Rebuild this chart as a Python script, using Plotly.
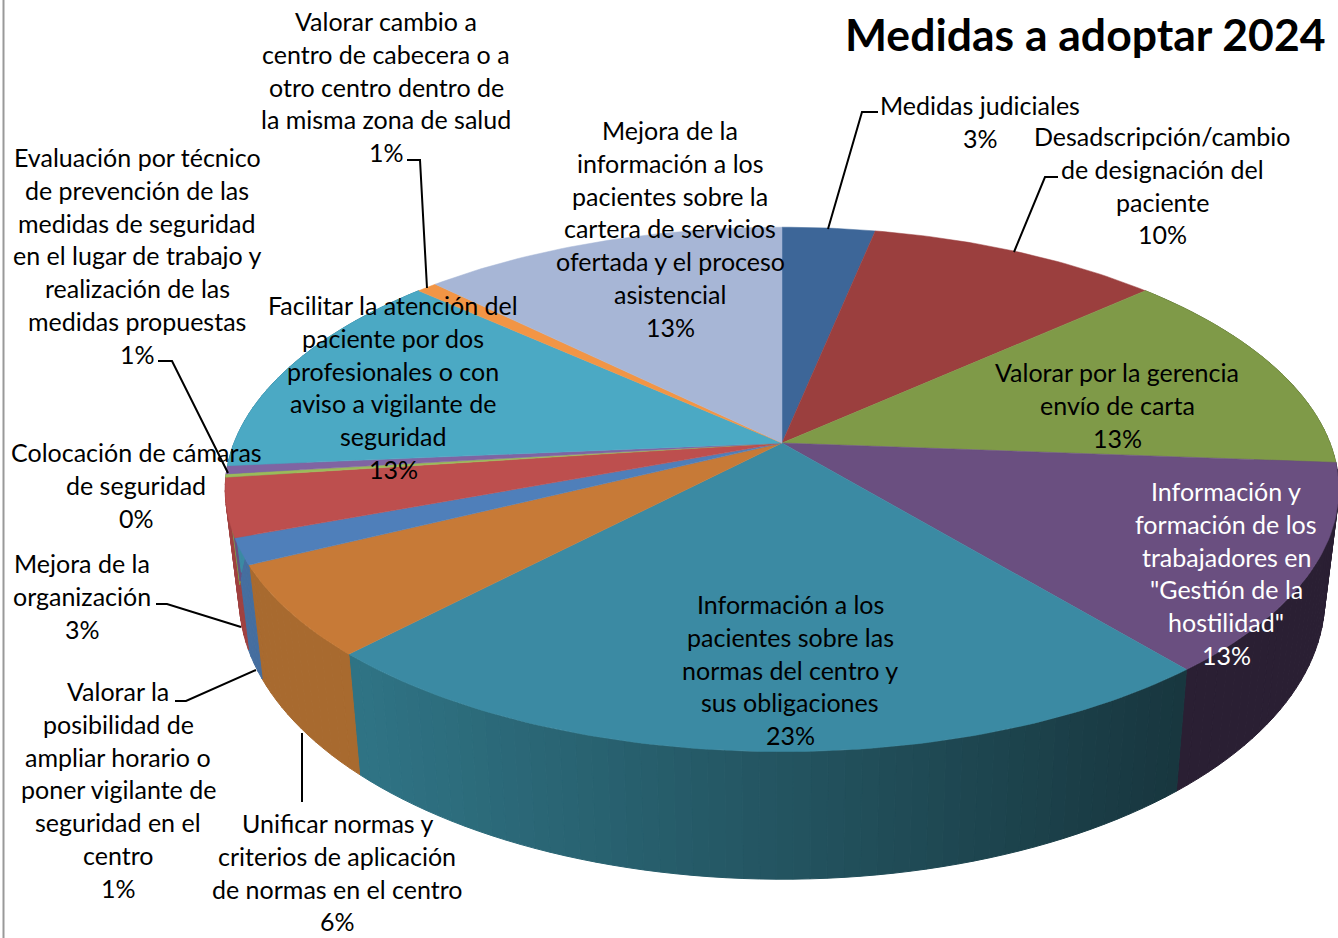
import numpy as np
import plotly.graph_objects as go

# ---- data ----
categories = ["Medidas judiciales", "Desadscripción/cambio de designación del paciente",
    "Valorar por la gerencia envío de carta",
    "Información y formación de los trabajadores en \"Gestión de la hostilidad\"",
    "Información a los pacientes sobre las normas del centro y sus obligaciones",
    "Unificar normas y criterios de aplicación de normas en el centro",
    "Valorar la posibilidad de ampliar horario o poner vigilante de seguridad en el centro",
    "Mejora de la organización", "Colocación de cámaras de seguridad",
    "Evaluación por técnico de prevención de las medidas de seguridad en el lugar de trabajo y realización de las medidas propuestas",
    "Facilitar la atención del paciente por dos profesionales o con aviso a vigilante de seguridad",
    "Valorar cambio a centro de cabecera o a otro centro dentro de la misma zona de salud",
    "Mejora de la información a los pacientes sobre la cartera de servicios ofertada y el proceso asistencial"]
values = [3.2, 10.1, 12.9, 12.8, 23.1, 5.6, 1.6, 3.6, 0.2, 0.5, 13.1, 0.7, 12.6]
percent_labels = ["3%", "10%", "13%", "13%", "23%", "6%", "1%", "3%", "0%", "1%", "13%", "1%", "13%"]
label_lines = [
    ["Medidas judiciales"],
    ["Desadscripción/cambio", "de designación del", "paciente"],
    ["Valorar por la gerencia", "envío de carta"],
    ["Información y", "formación de los", "trabajadores en", "\"Gestión de la", "hostilidad\""],
    ["Información a los", "pacientes sobre las", "normas del centro y", "sus obligaciones"],
    ["Unificar normas y", "criterios de aplicación", "de normas en el centro"],
    ["Valorar la", "posibilidad de", "ampliar horario o", "poner vigilante de", "seguridad en el", "centro"],
    ["Mejora de la", "organización"],
    ["Colocación de cámaras", "de seguridad"],
    ["Evaluación por técnico", "de prevención de las", "medidas de seguridad", "en el lugar de trabajo y", "realización de las", "medidas propuestas"],
    ["Facilitar la atención del", "paciente por dos", "profesionales o con", "aviso a vigilante de", "seguridad"],
    ["Valorar cambio a", "centro de cabecera o a", "otro centro dentro de", "la misma zona de salud"],
    ["Mejora de la", "información a los", "pacientes sobre la", "cartera de servicios", "ofertada y el proceso", "asistencial"],
]
title = "Medidas a adoptar 2024"

# ---- styles ----
top_colors = ["#3d6698", "#9b3f3e", "#7f9a48", "#6a4f80", "#3b8aa3", "#c77a37", "#4f7fba",
              "#bd4f4e", "#9bbb59", "#8064a2", "#4ba9c4", "#f29545", "#a7b6d6"]
side_left = ["#2f4c70", "#73302f", "#5f7336", "#2a1f33", "#2f7384", "#a86a2f", "#456e9f",
             "#a04140", "#7f9a48", "#6a4f80", "#3b8aa3", "#c77a37", "#8896b0"]
side_right = ["#2f4c70", "#73302f", "#5f7336", "#2a1f33", "#18373f", "#a56a30", "#456e9f",
              "#a04140", "#7f9a48", "#6a4f80", "#3b8aa3", "#c77a37", "#8896b0"]
label_x = [980, 1162, 1117, 1226, 790, 337, 118, 82, 136, 137, 393, 386, 670]
label_top = [105, 136, 372, 491, 604, 823, 691, 563, 452, 157, 305, 21, 130]
label_color = ["#000000"] * 13
label_color[3] = "#ffffff"
LINE_H = 32.75
FONT = "Lato, Carlito, Calibri, sans-serif"
FS = 25
leaders = [
    [(878, 112), (862, 112), (828, 229)],
    [(1058, 177), (1045, 177), (1014, 252)],
    [(407, 160), (420, 160), (427, 288)],
    [(158, 361), (172, 361), (228, 473)],
    [(156, 604), (167, 604), (241, 627)],
    [(175, 701), (186, 701), (256, 670)],
    [(302, 733), (302, 802)],
]

# ---- projection of the tilted disc ----
CX, CY, A, B, K, D, SHR = 782.0, 443.0, 548.0, 254.0, 0.177, 105.0, 0.975


def top_xy(t):
    u, w = np.sin(t), -np.cos(t)
    return CX + A * u / (1 - K * w), CY + B * w / (1 - K * w)


def low_xy(t):
    u, w = np.sin(t), -np.cos(t)
    return CX + SHR * A * u / (1 - K * w), CY + (B * w + D) / (1 - K * w)


def mix(c1, c2, f):
    a = [int(c1[i:i + 2], 16) for i in (1, 3, 5)]
    b = [int(c2[i:i + 2], 16) for i in (1, 3, 5)]
    return "rgb(%d,%d,%d)" % tuple(round(p + (q - p) * f) for p, q in zip(a, b))


fig = go.Figure()
edges = np.cumsum([0] + values) / sum(values) * 2 * np.pi

# side wall: strips shaded left to right
for i, v in enumerate(values):
    t0, t1 = edges[i], edges[i + 1]
    if t1 < np.radians(75) or t0 > np.radians(285):
        continue
    n = max(2, int(np.degrees(t1 - t0) / 1.5) + 1)
    ts = np.linspace(t0, t1, n + 1)
    for a, b in zip(ts[:-1], ts[1:]):
        xa, ya = top_xy(a); xb, yb = top_xy(b)
        xc, yc = low_xy(b); xd, yd = low_xy(a)
        f = float(np.clip(1 - ((xa + xb) / 2 - 362) / (1177 - 362), 0, 1))
        col = mix(side_right[i], side_left[i], f)
        fig.add_trace(go.Scatter(x=[xa, xb, xc, xd, xa], y=[ya, yb, yc, yd, ya], mode="lines",
                                 fill="toself", fillcolor=col, line=dict(color=col, width=1),
                                 hoverinfo="skip", showlegend=False))

# top face
for i, v in enumerate(values):
    ts = np.linspace(edges[i], edges[i + 1], max(3, int(np.degrees(edges[i + 1] - edges[i])) + 2))
    xs, ys = top_xy(ts)
    px = [CX] + list(xs) + [CX]
    py = [CY] + list(ys) + [CY]
    fig.add_trace(go.Scatter(x=px, y=py, mode="lines", fill="toself", fillcolor=top_colors[i],
                             line=dict(color=top_colors[i], width=0.5), name=categories[i],
                             text=f"{categories[i]}: {percent_labels[i]}", hoverinfo="text",
                             showlegend=False))

# leader lines
for pts in leaders:
    fig.add_trace(go.Scatter(x=[p[0] for p in pts], y=[p[1] for p in pts], mode="lines",
                             line=dict(color="#000000", width=2), hoverinfo="skip", showlegend=False))

# labels
for i, lines in enumerate(label_lines):
    for j, t in enumerate(lines + [percent_labels[i]]):
        fig.add_annotation(x=label_x[i], y=label_top[i] + j * LINE_H, text=t, showarrow=False,
                           xanchor="center", yanchor="middle",
                           font=dict(family=FONT, size=FS, color=label_color[i]))

fig.add_annotation(x=1328, y=33, text=f"<b>{title}</b>", showarrow=False, xanchor="right",
                   yanchor="middle", font=dict(family=FONT, size=44.5, color="#000000"))

# page edge rule
fig.add_shape(type="line", x0=3.5, x1=3.5, y0=0, y1=938, line=dict(color="#999999", width=2))

fig.update_xaxes(range=[0, 1338], visible=False)
fig.update_yaxes(range=[938, 0], visible=False)
fig.update_layout(width=1338, height=938, margin=dict(l=0, r=0, t=0, b=0),
                  paper_bgcolor="white", plot_bgcolor="white")
fig.write_html("out.html", config=dict(displayModeBar=False),
               post_script="document.body.style.margin='0';document.body.style.overflow='hidden';")
